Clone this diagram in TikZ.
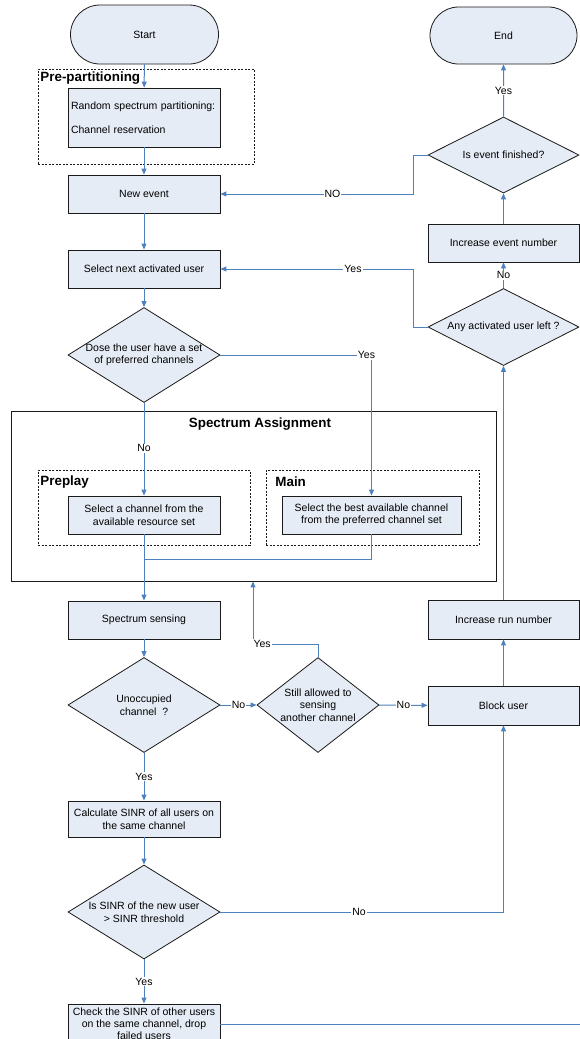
\documentclass[tikz,border=0pt]{standalone}
\usepackage{fontspec}
\setmainfont{Liberation Sans}
\usetikzlibrary{arrows.meta, shapes.geometric, shapes.misc}
\definecolor{cblue}{HTML}{4F81BD}
\definecolor{cfill}{HTML}{E6ECF6}
\definecolor{cline}{HTML}{1A1A1A}
\tikzset{
  every picture/.style={line width=0.8pt},
  box/.style={draw=cline, fill=cfill, align=center, inner sep=2pt, minimum width=152pt, minimum height=38pt},
  term/.style={box, rounded rectangle, minimum height=59pt},
  decision/.style={draw=cline, fill=cfill, diamond, align=center, aspect=1.6, inner xsep=-14pt, inner ysep=0pt, minimum width=152pt, minimum height=95pt},
  frame/.style={draw=cline, line width=0.8pt, minimum width=#1},
  group/.style={draw=cline, dash pattern=on 2pt off 1.5pt, line width=0.7pt, minimum height=75pt, minimum width=#1},
  arrow/.style={-{Triangle[length=6pt, width=5pt]}, draw=cblue, line width=1pt},
  link/.style={draw=cblue, line width=1pt},
  title/.style={font=\fontsize{13.4}{15}\selectfont\bfseries, inner sep=1pt},
  lbl/.style={fill=white, inner sep=1pt},
}

\begin{document}
\begin{tikzpicture}[x=1pt, y=-1pt, every node/.append style={font=\fontsize{10.5}{12.5}\selectfont}]
  \useasboundingbox (0,0) rectangle (579,1039);
  % frames
  \node[group=216pt, minimum height=95pt] (pre) at (146,116.5) {};
  \node[title, anchor=west] (pretitle) at (39,78) {Pre-partitioning};
  \node[frame=485pt, minimum height=170pt] (sa) at (253.5,496) {};
  \node[title] (satitle) at (260,424) {Spectrum Assignment};
  \node[group=212pt] (preplay) at (144,507.5) {};
  \node[title, anchor=west] (preplaytitle) at (39,482) {Preplay};
  \node[group=213pt] (mainbox) at (372.5,507.5) {};
  \node[title, anchor=west] (maintitle) at (274,482) {Main};
  % left column
  \node[term] (start) at (144.5,34.5) {Start};
  \node[box, minimum height=59pt, text width=146pt, align=left] (part) at (144,117.5) {Random spectrum partitioning:\\[12pt]Channel reservation};
  \node[box] (newev) at (144,194) {New event};
  \node[box] (selnext) at (144,269) {Select next activated user};
  \node[decision] (dose) at (144,355) {Dose the user have a set\\of preferred channels};
  \node[box] (selch) at (144,515) {Select a channel from the\\available resource set};
  \node[box, minimum width=179pt] (selbest) at (371.5,515) {Select the best available channel\\from the preferred channel set};
  \node[box] (sense) at (144,620) {Spectrum sensing};
  \node[decision] (unocc) at (144,705) {Unoccupied\\channel\ \ ?};
  \node[decision, minimum width=122pt] (still) at (318,705) {Still allowed to\\sensing\\another channel};
  \node[box, minimum height=36pt] (calc) at (144,819) {Calculate SINR of all users on\\the same channel};
  \node[decision, minimum height=94pt] (sinr) at (144,912) {Is SINR of the new user\\> SINR threshold};
  \node[box, minimum height=40pt, inner sep=1pt, font=\fontsize{10.5}{12}\selectfont] (check) at (144,1024) {Check the SINR of other users\\on the same channel, drop\\failed users};
  % right column
  \node[term, minimum width=151pt, minimum height=57pt] (end) at (503.5,35.5) {End};
  \node[decision, minimum width=151pt, minimum height=76pt] (fin) at (503.5,155) {Is event finished?};
  \node[box, minimum width=151pt] (incev) at (503.5,243) {Increase event number};
  \node[decision, minimum width=151pt, minimum height=77pt] (anyleft) at (503.5,327) {Any activated user left ?};
  \node[box, minimum width=151pt, minimum height=39pt] (incrun) at (503.5,619.5) {Increase run number};
  \node[box, minimum width=151pt, minimum height=39pt] (block) at (503.5,705.5) {Block user};
  \coordinate (merge) at (144,559);
  \coordinate (retry) at (253,644);
  \coordinate (exit) at (585,1024);
  % connectors
  \draw[arrow] (start) -- (part);
  \draw[arrow] (part) -- (newev);
  \draw[arrow] (newev) -- (selnext);
  \draw[arrow] (selnext) -- (dose);
  \draw[arrow] (dose) -- node[lbl, pos=0.49] {No} (selch);
  \draw[arrow] (dose.east) -| node[lbl, pos=0.5, xshift=-5pt] {Yes} (selbest.north);
  \draw[arrow] (selch) -- (sense);
  \draw[link] (selbest.south) |- (merge);
  \draw[arrow] (sense) -- (unocc);
  \draw[arrow] (unocc) -- node[lbl] {No} (still);
  \draw[arrow] (still) -- node[lbl] {No} (block);
  \draw[arrow] (still.north) |- node[lbl, pos=0.93] {Yes} (retry) -- (retry |- sa.south);
  \draw[arrow] (unocc) -- node[lbl] {Yes} (calc);
  \draw[arrow] (calc) -- (sinr);
  \draw[arrow] (sinr.east) -| node[lbl, pos=0.245] {No} (block.south);
  \draw[arrow] (sinr) -- node[lbl] {Yes} (check);
  \draw[link] (check.east) -- (exit);
  \draw[arrow] (block) -- (incrun);
  \draw[arrow] (incrun) -- (anyleft);
  \draw[arrow] (anyleft) -- node[lbl] {No} (incev);
  \draw[arrow] (incev) -- (fin);
  \draw[arrow] (fin) -- node[lbl] {Yes} (end);
  \draw[arrow] (fin.west) -- ++(-14,0) |- node[lbl, pos=0.71] {NO} (newev.east);
  \draw[arrow] (anyleft.west) -- ++(-14,0) |- node[lbl, pos=0.657] {Yes} (selnext.east);
\end{tikzpicture}
\end{document}
